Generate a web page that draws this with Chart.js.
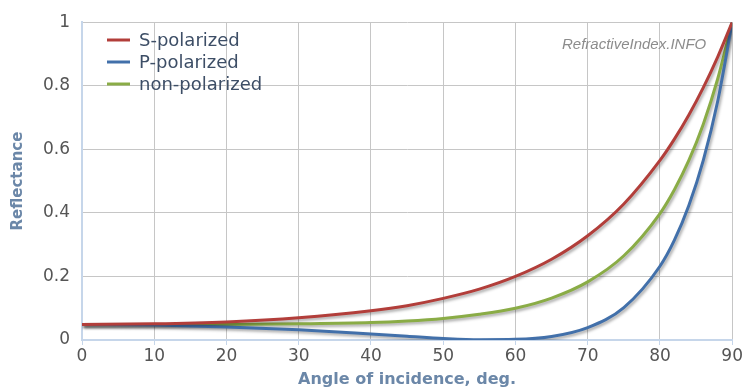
<!DOCTYPE html>
<html>
<head>
<meta charset="utf-8">
<script src="https://cdn.jsdelivr.net/npm/chart.js@4.4.1/dist/chart.umd.min.js"></script>
<style>
  html, body { margin: 0; padding: 0; background: #fff; }
  #wrap { width: 744px; height: 392px; }
</style>
</head>
<body>
<div id="wrap"><canvas id="reflectance-chart" width="744" height="392"></canvas></div>
<script>
// angles of incidence (deg) and reflectance
const angles = [0, 10, 20, 30, 40, 45, 50, 55, 60, 65, 70, 75, 80, 82, 84, 86, 88, 90];
const sPolarized = [0.049, 0.051, 0.057, 0.070, 0.092, 0.108, 0.131, 0.160, 0.200, 0.254, 0.328, 0.428, 0.565, 0.632, 0.708, 0.794, 0.891, 1];
const pPolarized = [0.049, 0.047, 0.041, 0.032, 0.019, 0.012, 0.005, 0.001, 0.002, 0.011, 0.039, 0.102, 0.232, 0.314, 0.423, 0.565, 0.752, 1];
const nonPolarized = [0.049, 0.049, 0.049, 0.051, 0.055, 0.060, 0.068, 0.081, 0.100, 0.132, 0.183, 0.265, 0.398, 0.473, 0.565, 0.679, 0.822, 1];

const xTicks = [0, 10, 20, 30, 40, 50, 60, 70, 80, 90];
const yTicks = [0, 0.2, 0.4, 0.6, 0.8, 1];

function getColor(name) {
    if (name === 'S-polarized') return 'rgb(178, 62, 58)';
    if (name === 'P-polarized') return 'rgb(66, 112, 170)';
    if (name === 'non-polarized') return 'rgb(138, 172, 70)';
}

function toPoints(values) {
    return angles.map((a, i) => ({ x: a, y: values[i] }));
}

const series = [
    { label: 'S-polarized', values: sPolarized },
    { label: 'P-polarized', values: pPolarized },
    { label: 'non-polarized', values: nonPolarized }
];

// soft drop shadow under each curve
const shadowPlugin = {
    id: 'lineShadow',
    beforeDatasetDraw(chart) {
        const ctx = chart.ctx;
        ctx.save();
        ctx.shadowColor = 'rgba(0, 0, 0, 0.35)';
        ctx.shadowBlur = 3;
        ctx.shadowOffsetX = 1.5;
        ctx.shadowOffsetY = 2;
    },
    afterDatasetDraw(chart) {
        chart.ctx.restore();
    }
};

// legend inside the plot area + watermark
const extrasPlugin = {
    id: 'extras',
    beforeDatasetsDraw(chart) {
        const ctx = chart.ctx;
        ctx.save();
        ctx.font = 'italic 15px "Liberation Sans", Arial, sans-serif';
        ctx.fillStyle = '#8c8c8c';
        ctx.textBaseline = 'middle';
        ctx.textAlign = 'left';
        ctx.fillText('RefractiveIndex.INFO', 562, 45);
        ctx.restore();
    },
    afterDatasetsDraw(chart) {
        const ctx = chart.ctx;
        ctx.save();
        ctx.font = '18px "DejaVu Sans", Verdana, sans-serif';
        ctx.textBaseline = 'middle';
        ctx.textAlign = 'left';
        chart.data.datasets.forEach((ds, i) => {
            const y = 40 + i * 22;
            ctx.strokeStyle = ds.borderColor;
            ctx.lineWidth = 3;
            ctx.beginPath();
            ctx.moveTo(107, y);
            ctx.lineTo(130, y);
            ctx.stroke();
            ctx.fillStyle = '#3d4e66';
            ctx.fillText(ds.label, 139, y + 1);
        });
        ctx.restore();
    }
};

const canvas = document.querySelector('#reflectance-chart');

new Chart(canvas.getContext('2d'), {
    type: 'line',
    data: {
        datasets: series.map(s => ({
            label: s.label,
            data: toPoints(s.values),
            borderColor: getColor(s.label),
            backgroundColor: getColor(s.label),
            borderWidth: 3,
            pointRadius: 0,
            cubicInterpolationMode: 'monotone',
            fill: false
        }))
    },
    options: {
        responsive: false,
        animation: false,
        events: [],
        layout: { padding: { left: 9, right: 11, top: 19, bottom: 3 } },
        plugins: {
            legend: { display: false },
            tooltip: { enabled: false }
        },
        scales: {
            x: {
                type: 'linear',
                min: 0,
                max: 90,
                afterBuildTicks: scale => { scale.ticks = xTicks.map(v => ({ value: v })); },
                afterFit: scale => { scale.height = 49; },
                grid: { color: '#c6c6c6', lineWidth: 1, tickColor: '#c6d6ea', tickLength: 5 },
                border: { color: '#c6d6ea', width: 2 },
                ticks: {
                    color: '#555',
                    padding: 1,
                    font: { family: '"DejaVu Sans", Verdana, sans-serif', size: 17 }
                },
                title: {
                    display: true,
                    text: 'Angle of incidence, deg.',
                    color: '#6b87a8',
                    padding: { top: 0, bottom: 0 },
                    font: { family: '"DejaVu Sans", Verdana, sans-serif', size: 16, weight: 'bold' }
                }
            },
            y: {
                min: 0,
                max: 1,
                afterBuildTicks: scale => { scale.ticks = yTicks.map(v => ({ value: v })); },
                afterFit: scale => { scale.width = 73; },
                grid: { color: '#c6c6c6', lineWidth: 1, drawTicks: false },
                border: { color: '#c6d6ea', width: 2 },
                ticks: {
                    color: '#555',
                    padding: 12,
                    font: { family: '"DejaVu Sans", Verdana, sans-serif', size: 17 },
                    callback: v => String(Math.round(v * 10) / 10)
                },
                title: {
                    display: true,
                    text: 'Reflectance',
                    color: '#6b87a8',
                    padding: { top: 0, bottom: 0 },
                    font: { family: '"DejaVu Sans", Verdana, sans-serif', size: 15, weight: 'bold' }
                }
            }
        }
    },
    plugins: [shadowPlugin, extrasPlugin]
});
</script>
</body>
</html>
